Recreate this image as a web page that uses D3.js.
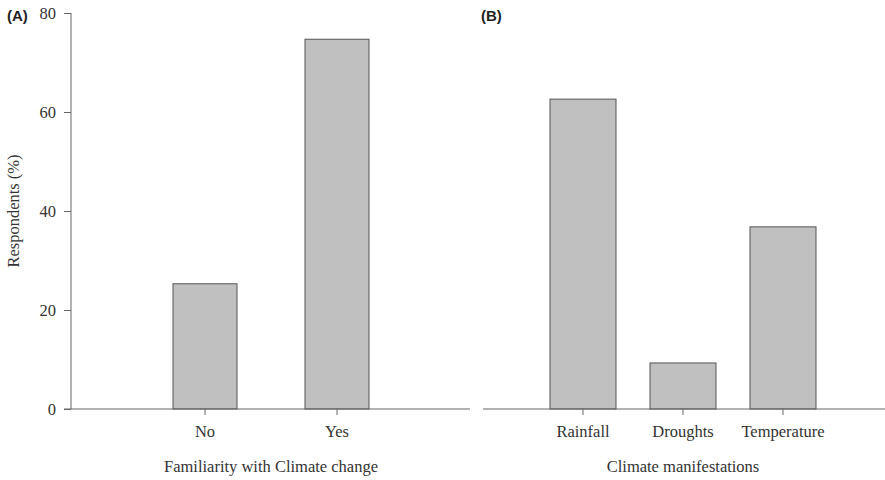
<!DOCTYPE html>
<html>
<head>
<meta charset="utf-8">
<script src="https://cdn.jsdelivr.net/npm/d3@7"></script>
<style>
  body { margin: 0; background: #fff; }
  text { font-family: "Liberation Serif", "Times New Roman", serif; fill: #333; }
  .panel-label { font-family: "Liberation Sans", Arial, sans-serif; font-weight: bold; fill: #222; }
</style>
</head>
<body>
<div id="chart"></div>
<script>
// Panel A data
const familiarCats = ["No", "Yes"];
const familiarVals = [25.3, 74.7];

// Panel B data
const manifestCats = ["Rainfall", "Droughts", "Temperature"];
const manifestVals = [62.6, 9.3, 36.8];

const yTicks = [0, 20, 40, 60, 80];

const width = 885, height = 480;
const fontSerif = "'Liberation Serif', 'Times New Roman', serif";
const svg = d3.select("#chart").append("svg")
  .attr("width", width).attr("height", height);

let y = d3.scaleLinear().domain([0, 80]).range([409, 13]);

// y axis for panel A
let yAxis = svg.append("g")
  .attr("transform", "translate(71,0)")
  .call(d3.axisLeft(y).tickValues(yTicks).tickSize(7).tickPadding(8));
yAxis.attr("font-family", fontSerif);
yAxis.select(".domain").attr("stroke", "#666").attr("d", "M0,409V13");
yAxis.selectAll(".tick line").attr("stroke", "#666");
yAxis.selectAll(".tick text").style("font-size", "16.5px").attr("fill", "#444");

svg.append("text")
  .attr("transform", "translate(19,211) rotate(-90)")
  .attr("text-anchor", "middle")
  .style("font-size", "16.5px")
  .text("Respondents (%)");

function drawPanel(cats, vals, x, axisFrom, axisTo, title) {
  // bars
  svg.selectAll(null)
    .data(cats)
    .enter().append("rect")
    .attr("x", d => x(d))
    .attr("y", (d, i) => y(vals[i]))
    .attr("width", x.bandwidth())
    .attr("height", (d, i) => y(0) - y(vals[i]))
    .attr("fill", "#c0c0c0")
    .attr("stroke", "#555")
    .attr("stroke-width", 1);

  // x axis line
  svg.append("line")
    .attr("x1", axisFrom).attr("x2", axisTo)
    .attr("y1", y(0)).attr("y2", y(0))
    .attr("stroke", "#666");

  let xAxis = svg.append("g")
    .attr("transform", `translate(0,${y(0)})`)
    .call(d3.axisBottom(x).tickSize(6).tickPadding(10));
  xAxis.attr("font-family", fontSerif);
  xAxis.select(".domain").remove();
  xAxis.selectAll(".tick line").attr("stroke", "#666");
  xAxis.selectAll(".tick text").style("font-size", "16.5px").attr("fill", "#333");

  svg.append("text")
    .attr("x", (x.range()[0] + x.range()[1]) / 2)
    .attr("y", 472)
    .attr("text-anchor", "middle")
    .style("font-size", "16.5px")
    .text(title);
}

let xA = d3.scaleBand().domain(familiarCats).range([139, 403])
  .paddingInner(0.515).paddingOuter(0.2575);
drawPanel(familiarCats, familiarVals, xA, 64, 470, "Familiarity with Climate change");

let xB = d3.scaleBand().domain(manifestCats).range([533, 833])
  .paddingInner(0.34).paddingOuter(0.17);
drawPanel(manifestCats, manifestVals, xB, 483, 885, "Climate manifestations");

// panel labels
svg.append("text").attr("class", "panel-label")
  .attr("x", 7).attr("y", 21).style("font-size", "15px").text("(A)");
svg.append("text").attr("class", "panel-label")
  .attr("x", 481).attr("y", 21).style("font-size", "15px").text("(B)");
</script>
</body>
</html>
